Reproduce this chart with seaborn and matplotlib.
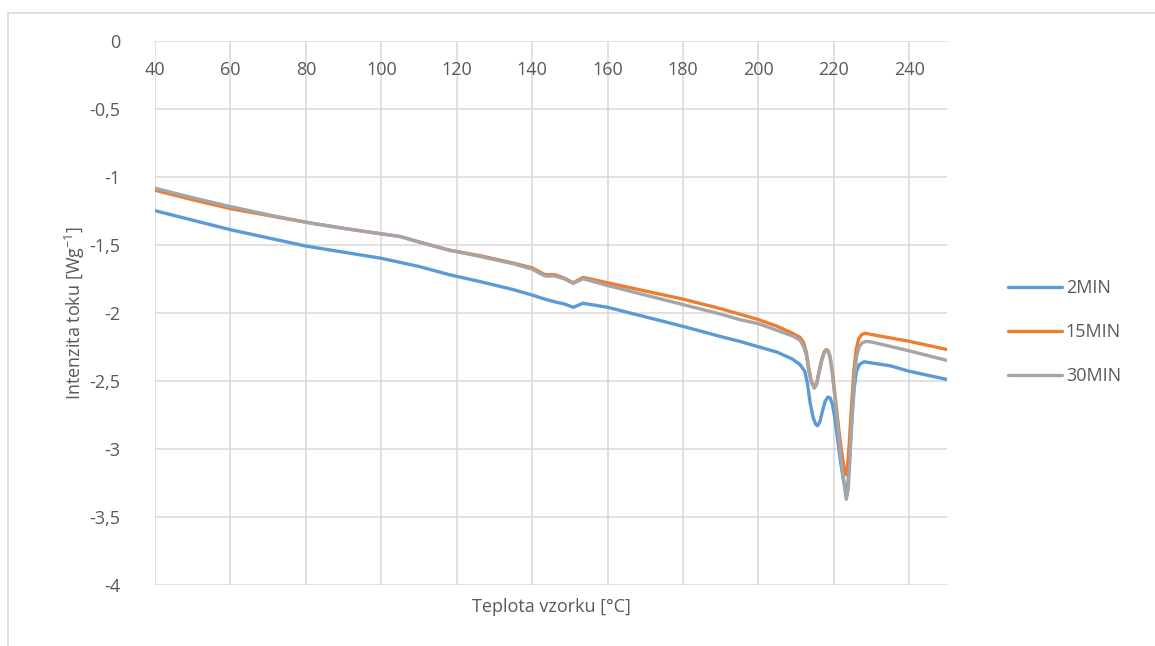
import numpy as np
import pandas as pd
import matplotlib
matplotlib.use("Agg")
import matplotlib.pyplot as plt
from matplotlib.patches import Rectangle
from matplotlib.lines import Line2D
import seaborn as sns

# ---- data ----
temp_2min = [40, 50, 60, 70, 80, 90, 100, 110, 118, 126, 135, 140, 143.4, 146, 148.5, 150.9, 153.5,
             160, 170, 180, 190, 195, 200, 205, 209, 211, 212.3, 213, 213.7, 214.5, 215.2, 215.7,
             216.3, 217, 217.7, 218.4, 219, 219.6, 220.3, 221, 221.8, 222.5, 223.2, 223.7, 224.2,
             224.8, 225.4, 226, 226.8, 228, 235, 240, 245, 250]
flow_2min = [-1.25, -1.32, -1.39, -1.45, -1.51, -1.555, -1.60, -1.66, -1.72, -1.77, -1.83, -1.87, -1.90,
             -1.92, -1.935, -1.96, -1.93, -1.96, -2.03, -2.10, -2.175, -2.21, -2.25, -2.29, -2.34,
             -2.38, -2.43, -2.52, -2.66, -2.77, -2.82, -2.83, -2.80, -2.72, -2.65, -2.62, -2.625,
             -2.67, -2.78, -2.93, -3.10, -3.22, -3.31, -3.27, -3.05, -2.78, -2.55, -2.43, -2.38,
             -2.36, -2.39, -2.43, -2.46, -2.49]

temp_15min = [40, 50, 60, 70, 80, 90, 100, 105, 110, 118, 126, 135, 140, 143.4, 146, 148.5, 150.9,
              153.5, 160, 170, 180, 190, 195, 200, 205, 209, 211, 212, 212.7, 213.3, 214, 214.8,
              215.4, 216, 216.8, 217.5, 218, 218.5, 219, 219.6, 220.2, 221, 221.8, 222.5, 223.1,
              223.6, 224.1, 224.7, 225.3, 225.9, 226.6, 227.4, 228.3, 230, 240, 250]
flow_15min = [-1.10, -1.17, -1.235, -1.285, -1.335, -1.38, -1.42, -1.44, -1.48, -1.54, -1.58, -1.635,
              -1.67, -1.72, -1.72, -1.745, -1.78, -1.74, -1.78, -1.84, -1.90, -1.97, -2.01, -2.05,
              -2.10, -2.15, -2.18, -2.22, -2.29, -2.40, -2.50, -2.545, -2.52, -2.44, -2.34, -2.285,
              -2.27, -2.28, -2.32, -2.43, -2.58, -2.78, -2.97, -3.10, -3.19, -3.14, -2.95, -2.68,
              -2.43, -2.27, -2.19, -2.16, -2.15, -2.16, -2.21, -2.27]

temp_30min = [40, 50, 60, 70, 80, 90, 100, 105, 110, 118, 126, 135, 140, 143.4, 146, 148.5, 150.9,
              153.5, 160, 170, 180, 190, 195, 200, 205, 209, 211, 212, 212.7, 213.3, 214, 214.8,
              215.4, 216, 216.8, 217.5, 218, 218.5, 219, 219.6, 220.2, 221, 221.8, 222.6, 223.3,
              223.8, 224.3, 224.9, 225.5, 226.1, 226.8, 227.6, 228.5, 230, 240, 250]
flow_30min = [-1.085, -1.155, -1.22, -1.28, -1.335, -1.38, -1.42, -1.44, -1.48, -1.54, -1.585, -1.64,
              -1.68, -1.73, -1.73, -1.75, -1.785, -1.75, -1.80, -1.87, -1.94, -2.01, -2.05, -2.08,
              -2.13, -2.17, -2.20, -2.25, -2.31, -2.42, -2.51, -2.555, -2.53, -2.45, -2.35, -2.29,
              -2.275, -2.29, -2.33, -2.45, -2.60, -2.82, -3.05, -3.24, -3.37, -3.30, -3.05, -2.72,
              -2.46, -2.31, -2.245, -2.22, -2.21, -2.215, -2.28, -2.35]

series_names = ["2MIN", "15MIN", "30MIN"]
series_colors = ["#5B9BD5", "#ED7D31", "#A5A5A5"]
x_ticks = [40, 60, 80, 100, 120, 140, 160, 180, 200, 220, 240]
y_ticks = [0, -0.5, -1, -1.5, -2, -2.5, -3, -3.5, -4]
x_title = "Teplota vzorku [°C]"
y_title = "Intenzita toku [Wg$^{-1}$]"

df = pd.concat([
    pd.DataFrame({"T": temp_2min, "Q": flow_2min, "serie": "2MIN"}),
    pd.DataFrame({"T": temp_15min, "Q": flow_15min, "serie": "15MIN"}),
    pd.DataFrame({"T": temp_30min, "Q": flow_30min, "serie": "30MIN"}),
], ignore_index=True)

# ---- style ----
sns.set_theme(style="white")
plt.rcParams["font.family"] = ["Open Sans", "DejaVu Sans"]
plt.rcParams["mathtext.fontset"] = "custom"
plt.rcParams["mathtext.rm"] = "Open Sans"
plt.rcParams["mathtext.it"] = "Open Sans"
plt.rcParams["mathtext.default"] = "regular"
txt = "#595959"
grid = "#D9D9D9"
fs = 13

fig = plt.figure(figsize=(11.55, 6.46), dpi=100)
fig.patch.set_facecolor("white")
W, H = 1155, 646
ax = fig.add_axes([155 / W, 1 - 585 / H, (947 - 155) / W, (585 - 40.5) / H])

sns.lineplot(data=df, x="T", y="Q", hue="serie", hue_order=series_names,
             palette=series_colors, sort=False, estimator=None, linewidth=2.4,
             ax=ax, legend=False)
for ln in ax.get_lines():
    ln.set_solid_joinstyle("round")

ax.set_xlim(40, 250)
ax.set_ylim(-4, 0)
ax.set_xticks(x_ticks)
ax.set_yticks(y_ticks)
ax.set_yticklabels([("%g" % v).replace(".", ",") for v in y_ticks])
ax.xaxis.tick_top()
ax.tick_params(axis="x", length=0, pad=-15, labelsize=fs, labelcolor=txt)
for lab in ax.get_xticklabels():
    lab.set_verticalalignment("top")
ax.tick_params(axis="y", length=0, pad=25, labelsize=fs, labelcolor=txt)
ax.grid(True, color=grid, linewidth=1.1)
ax.set_axisbelow(True)
for s in ["top", "right", "bottom", "left"]:
    ax.spines[s].set_visible(False)

ax.set_xlabel("")
ax.set_ylabel("")
fig.text(551 / W, 1 - 607 / H, x_title, ha="center", va="center", fontsize=fs, color=txt)
fig.text(75 / W, 1 - 313 / H, y_title, ha="center", va="center", rotation=90,
         fontsize=fs, color=txt)

handles = [Line2D([0], [0], color=c, lw=2.4) for c in series_colors]
fig.legend(handles, series_names, loc="center left", bbox_to_anchor=(1008 / W, 1 - 332 / H),
           frameon=False, fontsize=fs, labelcolor=txt, handlelength=3.0, handletextpad=0.2,
           labelspacing=1.45, borderpad=0, borderaxespad=0)

# outer chart-area frame
fig.add_artist(Rectangle((8 / W, -0.2), 2, 1.2 - 13 / H, transform=fig.transFigure,
                         fill=False, edgecolor=grid, linewidth=1.2))

fig.savefig("out.png", dpi=100, facecolor="white")
